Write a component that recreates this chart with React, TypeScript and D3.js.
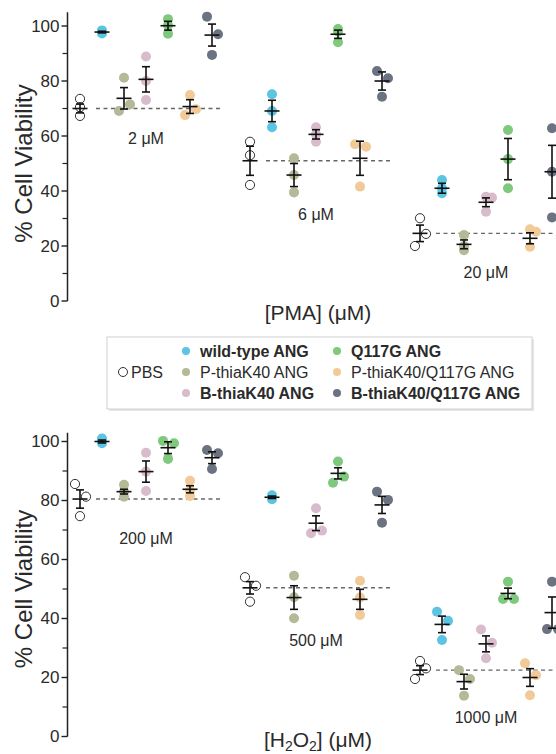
import React from "react";
import * as d3 from "d3";

// groups shown in each panel, left to right
const series = [
  "PBS",
  "wild-type ANG",
  "P-thiaK40 ANG",
  "B-thiaK40 ANG",
  "Q117G ANG",
  "P-thiaK40/Q117G ANG",
  "B-thiaK40/Q117G ANG",
];
const seriesColors = ["none", "#5ac4e2", "#b4b997", "#d9bccb", "#7ec97b", "#f1ca97", "#6b7281"];
const seriesBold = [false, true, false, true, true, false, true];

const pmaDoses = ["2 μM", "6 μM", "20 μM"];
const h2o2Doses = ["200 μM", "500 μM", "1000 μM"];

// replicate values [dose][series][replicate]
const pmaValues = [
  [[73.5, 70.5, 67.3], [98.4, 97.8, 97.3], [81.2, 71.5, 69.1], [88.9, 80, 73.1], [102.5, 100.3, 97.2], [74.9, 69.7, 67.6], [103.4, 97, 89.5]],
  [[57.9, 53, 42.2], [75.2, 69.1, 63.2], [51.9, 45.8, 39.5], [63.2, 60.6, 57.9], [98.9, 98, 94.1], [57, 56.1, 41.6], [83.6, 81, 74.3]],
  [[30.1, 24.4, 20], [44, 41, 39.2], [24, 20, 18.5], [37.9, 37.6, 32.5], [62.2, 51.6, 41], [26.1, 25.2, 19.7], [62.8, 47, 30.4]],
];
const pmaMeans = [
  [70, 97.8, 73.7, 80.6, 100.1, 70.7, 96.7],
  [51, 69.1, 45.8, 60.6, 97, 51.9, 80],
  [24.6, 41, 20.6, 35.9, 51.6, 22.8, 47],
];
const pmaErrors = [
  [1.6, 0.3, 3.9, 4.6, 1.6, 2.5, 4],
  [5.3, 3.9, 4.2, 1.7, 1.5, 6.2, 3.3],
  [3, 1.8, 1.6, 1.6, 7.5, 2, 9.6],
];
// which side of the column a replicate dot sits on (-1 left, 0 centre, 1 right)
const pmaLanes = [
  [[0, 0, 0], [0, 0, 0], [0, 1, -1], [0, 0, 0], [0, 0, 0], [0, 1, -1], [-1, 1, 0]],
  [[0, 0, 0], [0, 0, 0], [0, 0, 0], [0, 0, 0], [0, 0, 0], [-1, 1, 0], [-1, 1, 0]],
  [[0, 1, -1], [0, 0, 0], [0, 0, 0], [0, 1, 0], [0, 0, 0], [0, 1, 0], [0, 0, 0]],
];

const h2o2Values = [
  [[85.6, 81.3, 74.7], [101, 100, 99.4], [85.3, 83, 81.3], [96.2, 89.8, 83.2], [100.2, 99.4, 94.1], [86.7, 83.2, 81.5], [97.1, 96, 90.7]],
  [[54, 51.1, 45.7], [81.8, 81.1, 80.4], [54.5, 47.2, 40.1], [77.4, 69.8, 68.9], [93.2, 88.1, 86], [52.8, 47.1, 41.2], [83, 80.2, 72.5]],
  [[25.6, 23.1, 19.5], [42.3, 39.2, 32.7], [22.5, 19.5, 13.8], [36.3, 31.8, 26.5], [52.5, 46.6, 46.6], [24.8, 20.8, 14], [52.5, 36.4, 36.4]],
];
const h2o2Means = [
  [80.5, 100, 83, 89.8, 97.9, 83.8, 94.5],
  [50.4, 81.1, 47.1, 72.3, 89.2, 46.5, 78.5],
  [22.5, 38, 18.6, 31.4, 48.5, 20, 42],
];
const h2o2Errors = [
  [3.1, 0.5, 0.8, 3.6, 2, 1.2, 2],
  [2.1, 0.4, 4, 2.5, 1.9, 3.4, 2.9],
  [1.5, 2.8, 2.5, 2.7, 1.8, 3, 5.3],
];
const h2o2Lanes = [
  [[-1, 1, 0], [0, 0, 0], [0, 0, 0], [0, 0, 0], [-1, 1, 0], [0, 0, 0], [-1, 1, 0]],
  [[-1, 1, 0], [0, 0, 0], [0, 0, 0], [0, 1, -1], [0, 1, -1], [0, 0, 0], [-1, 1, 0]],
  [[0, 1, -1], [-1, 1, 0], [-1, 1, 0], [-1, 1, 0], [0, -1, 1], [-1, 1, 0], [0, -1, 1]],
];

const yTicks = [0, 20, 40, 60, 80, 100];
const yMinorTicks = [10, 30, 50, 70, 90];

const width = 556;
const height = 754;
const axisX = 67.5;
const font = "'Liberation Sans', Arial, Helvetica, sans-serif";
const textColor = "#2a2a2a";
const dotR = 5;

type PanelProps = {
  doses: string[];
  values: number[][][];
  means: number[][];
  errors: number[][];
  lanes: number[][][];
  yMax: number;
  yBottom: number;
  yTop: number;
  xLabel: React.ReactNode;
  xLabelY: number;
};

function Panel({ doses, values, means, errors, lanes, yMax, yBottom, yTop, xLabel, xLabelY }: PanelProps) {
  const y = d3.scaleLinear().domain([0, yMax]).range([yBottom, yTop]);
  const xGroup = d3.scalePoint<string>().domain(doses).range([146, 486]);
  const xSeries = d3.scalePoint<string>().domain(series).range([-66, 66]);
  const xLane = d3.scaleLinear().domain([-1, 0, 1]).range([-5, 0, 6]);
  const cx = (g: number, s: number) => (xGroup(doses[g]) as number) + (xSeries(series[s]) as number);

  return (
    <g>
      {/* y axis */}
      <line x1={axisX} x2={axisX} y1={y(0)} y2={y(yMax)} stroke="#222" strokeWidth={1.5} />
      {yTicks.map((t) => (
        <g key={t} transform={`translate(0,${y(t)})`}>
          <line x1={axisX - 6} x2={axisX} stroke="#222" strokeWidth={1.4} />
          <text x={axisX - 8} dy="0.35em" textAnchor="end" fontSize={17} fill={textColor}>
            {t}
          </text>
        </g>
      ))}
      {yMinorTicks.map((t) => (
        <line key={t} x1={axisX - 5} x2={axisX} y1={y(t)} y2={y(t)} stroke="#222" strokeWidth={1.2} />
      ))}
      <text
        transform={`translate(24,${(y(0) + y(100)) / 2}) rotate(-90)`}
        textAnchor="middle"
        dy="0.35em"
        fontSize={24}
        fill={textColor}
      >
        % Cell Viability
      </text>

      {doses.map((dose, g) => {
        const base = means[g][0];
        const low = d3.min(values[g].flat()) as number;
        return (
          <g key={dose}>
            {/* PBS baseline */}
            <line
              x1={cx(g, 1) - 6}
              x2={cx(g, 6) + 8}
              y1={y(base)}
              y2={y(base)}
              stroke="#666"
              strokeWidth={1.4}
              strokeDasharray="4,3.5"
            />
            {values[g].map((reps, s) =>
              reps.map((v, r) => (
                <circle
                  key={`${s}-${r}`}
                  cx={cx(g, s) + xLane(lanes[g][s][r])}
                  cy={y(v)}
                  r={s === 0 ? 4.6 : dotR}
                  fill={seriesColors[s]}
                  stroke={s === 0 ? "#333" : "none"}
                  strokeWidth={1}
                />
              ))
            )}
            {means[g].map((m, s) => {
              const x0 = cx(g, s);
              const e = errors[g][s];
              return (
                <g key={`m${s}`} stroke="#111" strokeWidth={1.6}>
                  <line x1={x0} x2={x0} y1={y(m - e)} y2={y(m + e)} />
                  <line x1={x0 - 4} x2={x0 + 4} y1={y(m - e)} y2={y(m - e)} />
                  <line x1={x0 - 4} x2={x0 + 4} y1={y(m + e)} y2={y(m + e)} />
                  <line x1={x0 - 7.5} x2={x0 + 7.5} y1={y(m)} y2={y(m)} />
                </g>
              );
            })}
            <text
              x={xGroup(dose)}
              y={y(low) + 22}
              dy="0.35em"
              textAnchor="middle"
              fontSize={16}
              fill={textColor}
            >
              {dose}
            </text>
          </g>
        );
      })}

      <text x={318} y={xLabelY} textAnchor="middle" fontSize={21} fill={textColor}>
        {xLabel}
      </text>
    </g>
  );
}

function Legend() {
  const rows = [351, 372, 393];
  const cols = [186, 337];
  // first column: wild-type, P-thiaK40, B-thiaK40; second column: the Q117G variants
  const items = series.slice(1).map((name, i) => ({
    name,
    s: i + 1,
    col: i < 3 ? 0 : 1,
    row: i % 3,
  }));
  return (
    <g fontSize={16} fill={textColor}>
      <rect x={109} y={339} width={425} height={72} fill="#e6e6e6" />
      <rect x={107} y={337} width={425} height={72} fill="#fff" stroke="#d0d0d0" strokeWidth={1} />
      <circle cx={123} cy={rows[1]} r={4.5} fill="#fff" stroke="#333" strokeWidth={1} />
      <text x={131} y={rows[1]} dy="0.35em">
        PBS
      </text>
      {items.map((d) => (
        <g key={d.name}>
          <circle cx={cols[d.col]} cy={rows[d.row]} r={4} fill={seriesColors[d.s]} />
          <text x={cols[d.col] + 14} y={rows[d.row]} dy="0.35em" fontWeight={seriesBold[d.s] ? "bold" : "normal"}>
            {d.name}
          </text>
        </g>
      ))}
    </g>
  );
}

export default function App() {
  return (
    <svg
      width={width}
      height={height}
      style={{ position: "absolute", left: 0, top: 0, background: "#fff" }}
      fontFamily={font}
    >
      <Panel
        doses={pmaDoses}
        values={pmaValues}
        means={pmaMeans}
        errors={pmaErrors}
        lanes={pmaLanes}
        yMax={105}
        yBottom={301}
        yTop={12.25}
        xLabel="[PMA] (μM)"
        xLabelY={320}
      />
      <Legend />
      <Panel
        doses={h2o2Doses}
        values={h2o2Values}
        means={h2o2Means}
        errors={h2o2Errors}
        lanes={h2o2Lanes}
        yMax={103}
        yBottom={736.5}
        yTop={432.65}
        xLabel={
          <>
            [H<tspan dy={4} fontSize={14}>2</tspan>
            <tspan dy={-4}>O</tspan>
            <tspan dy={4} fontSize={14}>2</tspan>
            <tspan dy={-4}>] (μM)</tspan>
          </>
        }
        xLabelY={747}
      />
    </svg>
  );
}
